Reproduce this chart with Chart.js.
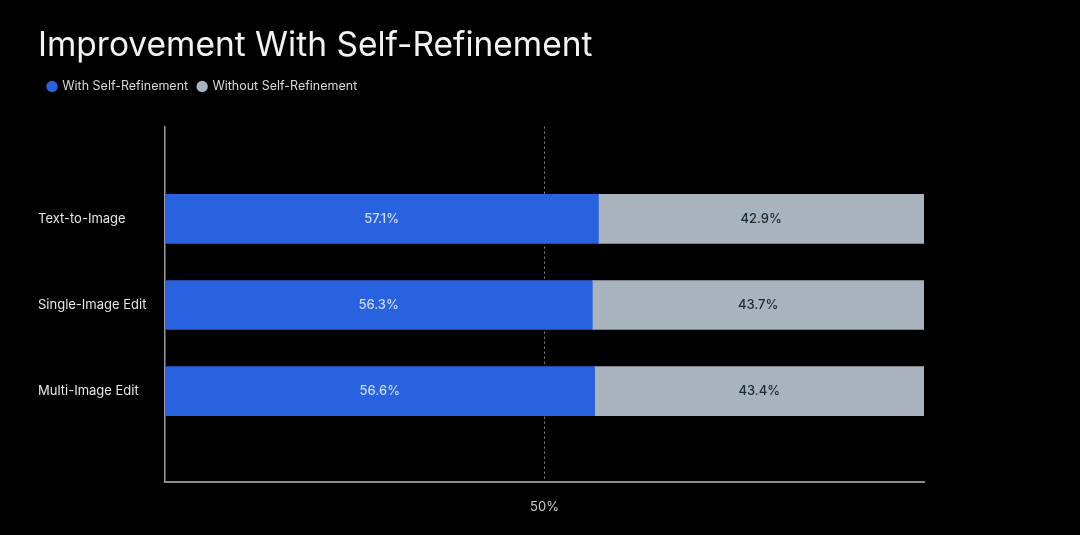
<!DOCTYPE html>
<html>
<head>
<meta charset="utf-8">
<script src="https://cdn.jsdelivr.net/npm/chart.js@4"></script>
<style>
  html, body { margin: 0; padding: 0; background: #000; }
  #wrap { width: 1080px; height: 535px; }
</style>
</head>
<body>
<div id="wrap"><canvas id="refinement"></canvas></div>
<script>
// data
const categories = ['Text-to-Image', 'Single-Image Edit', 'Multi-Image Edit'];
const withRefinement = [57.1, 56.3, 56.6];
const withoutRefinement = [42.9, 43.7, 43.4];
const xTicks = [50];

const toPoints = (values) => values.map((v, i) => ({ x: v, y: i }));

// puts the percentage in the middle of every bar
const barLabels = {
    id: 'barLabels',
    afterDatasetsDraw(chart) {
        const ctx = chart.ctx;
        ctx.save();
        ctx.font = '500 13px Inter, "Noto Sans", sans-serif';
        ctx.textAlign = 'center';
        ctx.textBaseline = 'middle';
        chart.data.datasets.forEach((ds, di) => {
            chart.getDatasetMeta(di).data.forEach((bar, i) => {
                const left = Math.min(bar.x, bar.base);
                const right = Math.max(bar.x, bar.base);
                ctx.fillStyle = ds.labelColor;
                ctx.fillText(ds.data[i].x.toFixed(1) + '%', (left + right) / 2, bar.y);
            });
        });
        ctx.restore();
    }
};

// extra room under the legend
const legendGap = {
    id: 'legendGap',
    beforeInit(chart) {
        const fit = chart.legend.fit;
        chart.legend.fit = function () {
            fit.bind(chart.legend)();
            this.height += 24;
        };
    }
};

new Chart(document.getElementById('refinement').getContext('2d'), {
    type: 'bar',
    data: {
        datasets: [{
            label: 'With Self-Refinement',
            data: toPoints(withRefinement),
            backgroundColor: '#2962de',
            labelColor: '#c9dbff',
            barThickness: 49
        }, {
            label: 'Without Self-Refinement',
            data: toPoints(withoutRefinement),
            backgroundColor: '#a8b3bd',
            labelColor: '#1d2a35',
            barThickness: 49
        }]
    },
    plugins: [barLabels, legendGap],
    options: {
        indexAxis: 'y',
        responsive: true,
        maintainAspectRatio: false,
        animation: false,
        layout: {
            padding: { top: 26, left: 38, right: 156, bottom: 3 }
        },
        plugins: {
            title: {
                display: true,
                text: 'Improvement With Self-Refinement',
                align: 'start',
                color: '#f2f2f2',
                font: { size: 33.5, family: 'Inter, "Noto Sans", sans-serif', weight: '400' },
                padding: { top: 0, bottom: 4 }
            },
            legend: {
                display: true,
                position: 'top',
                align: 'start',
                labels: {
                    usePointStyle: true,
                    pointStyle: 'circle',
                    boxWidth: 8,
                    boxHeight: 8,
                    color: '#d8d8d8',
                    padding: 10,
                    font: { size: 12.5, family: 'Inter, "Noto Sans", sans-serif' }
                }
            },
            tooltip: { enabled: false }
        },
        scales: {
            x: {
                type: 'linear',
                stacked: true,
                min: 0,
                max: 100,
                afterBuildTicks(scale) {
                    scale.ticks = xTicks.map((v) => ({ value: v }));
                },
                ticks: {
                    color: '#cfcfcf',
                    padding: 17,
                    font: { size: 13, family: 'Inter, "Noto Sans", sans-serif' },
                    callback: (v) => v + '%'
                },
                grid: {
                    color: '#8a8a8a',
                    lineWidth: 1,
                    drawTicks: false
                },
                border: { color: '#8c8c8c', width: 2, dash: [2, 3] }
            },
            y: {
                type: 'linear',
                stacked: true,
                reverse: true,
                offset: false,
                bounds: 'data',
                min: -1.07,
                max: 3.06,
                afterBuildTicks(scale) {
                    scale.ticks = categories.map((c, i) => ({ value: i }));
                },
                afterFit(scale) {
                    scale.width = 127;
                },
                ticks: {
                    color: '#e6e6e6',
                    crossAlign: 'far',
                    font: { size: 13, family: 'Inter, "Noto Sans", sans-serif' },
                    callback: (v) => categories[v]
                },
                grid: { display: false, drawTicks: false, offset: false },
                border: { color: '#9a9a9a', width: 1.5 }
            }
        }
    }
});
</script>
</body>
</html>
